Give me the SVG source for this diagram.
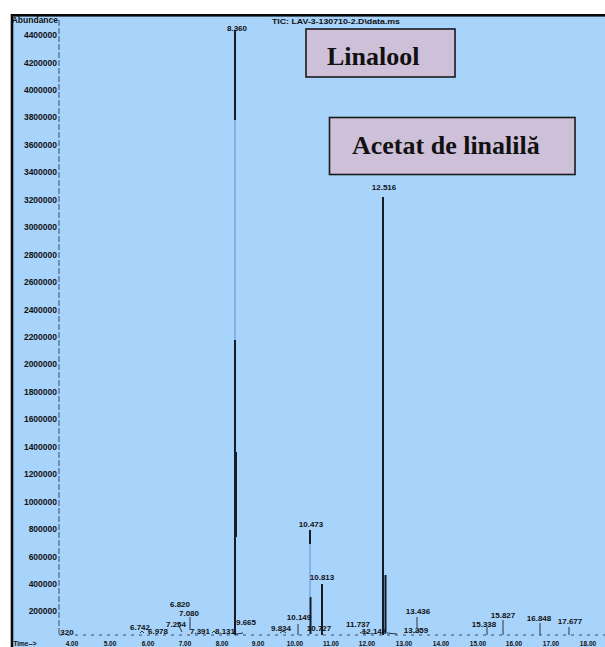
<svg xmlns="http://www.w3.org/2000/svg" width="605" height="647" viewBox="0 0 605 647">
<style>
.ax{font-family:"Liberation Sans",Arial,sans-serif;font-weight:bold;font-size:8.5px;fill:#111;text-anchor:end}
.pk{font-family:"Liberation Sans",Arial,sans-serif;font-weight:bold;font-size:8px;fill:#111;text-anchor:middle}
.xt{font-family:"Liberation Sans",Arial,sans-serif;font-weight:bold;font-size:6.5px;fill:#111;text-anchor:middle}
.box{fill:#CFC0D9;stroke:#1a1a1a;stroke-width:1.6}
.bt{font-family:"Liberation Serif","Times New Roman",serif;font-weight:bold;font-size:26px;fill:#111}
.dk{stroke:#141c28;stroke-width:2;fill:none}
.lt{stroke:#86aee8;stroke-width:2;fill:none}
.sm{stroke:#2a3440;stroke-width:1;fill:none}
</style>
<rect x="0" y="0" width="605" height="647" fill="#ffffff"/>
<rect id="frame" x="12" y="15.3" width="600" height="640" fill="#A8D4FC" stroke="#0a0a0a" stroke-width="2.6"/>
<g id="y-axis">
<line x1="59" y1="20" x2="59" y2="635" stroke="#3a4a60" stroke-width="1" stroke-dasharray="6,2"/>
<text class="ax" x="58" y="23" font-size="7">Abundance</text>
<text class="ax" x="57" y="38">4400000</text>
<text class="ax" x="57" y="65.5">4200000</text>
<text class="ax" x="57" y="93">4000000</text>
<text class="ax" x="57" y="120.4">3800000</text>
<text class="ax" x="57" y="147.8">3600000</text>
<text class="ax" x="57" y="175.3">3400000</text>
<text class="ax" x="57" y="202.7">3200000</text>
<text class="ax" x="57" y="230.2">3000000</text>
<text class="ax" x="57" y="257.6">2800000</text>
<text class="ax" x="57" y="285">2600000</text>
<text class="ax" x="57" y="312.5">2400000</text>
<text class="ax" x="57" y="340">2200000</text>
<text class="ax" x="57" y="367.4">2000000</text>
<text class="ax" x="57" y="394.9">1800000</text>
<text class="ax" x="57" y="422.3">1600000</text>
<text class="ax" x="57" y="449.8">1400000</text>
<text class="ax" x="57" y="477.2">1200000</text>
<text class="ax" x="57" y="504.6">1000000</text>
<text class="ax" x="57" y="532">800000</text>
<text class="ax" x="57" y="559.5">600000</text>
<text class="ax" x="57" y="587">400000</text>
<text class="ax" x="57" y="614.4">200000</text>
</g>
<g id="x-axis">
<line x1="59" y1="635" x2="605" y2="635" stroke="#3a4a60" stroke-width="1" stroke-dasharray="3,5"/>
<text class="xt" x="25" y="646">Time--&gt;</text>
<text class="xt" x="72" y="646">4.00</text>
<text class="xt" x="110" y="646">5.00</text>
<text class="xt" x="148" y="646">6.00</text>
<text class="xt" x="185" y="646">7.00</text>
<text class="xt" x="222" y="646">8.00</text>
<text class="xt" x="258" y="646">9.00</text>
<text class="xt" x="295" y="646">10.00</text>
<text class="xt" x="331" y="646">11.00</text>
<text class="xt" x="367" y="646">12.00</text>
<text class="xt" x="404" y="646">13.00</text>
<text class="xt" x="441" y="646">14.00</text>
<text class="xt" x="478" y="646">15.00</text>
<text class="xt" x="514" y="646">16.00</text>
<text class="xt" x="551" y="646">17.00</text>
<text class="xt" x="588" y="646">18.00</text>
</g>
<text id="title" class="pk" x="336" y="24" font-size="7.5" textLength="128" lengthAdjust="spacingAndGlyphs">TIC: LAV-3-130710-2.D\data.ms</text>
<g id="peaks">
<line class="dk" x1="235" y1="30" x2="235" y2="120"/>
<line class="lt" x1="235" y1="120" x2="235" y2="340"/>
<line class="dk" x1="235" y1="340" x2="235" y2="635"/>
<line class="dk" x1="236" y1="452" x2="236" y2="537" stroke-width="3"/>
<line class="dk" x1="383" y1="197" x2="383" y2="635"/>
<line class="dk" x1="385.5" y1="575" x2="385.5" y2="633" stroke-width="2.5"/>
<line class="dk" x1="310" y1="530" x2="310" y2="544"/>
<line class="lt" x1="310" y1="544" x2="310" y2="597"/>
<line class="dk" x1="310.5" y1="597" x2="310.5" y2="634" stroke-width="3"/>
<line class="dk" x1="322" y1="584" x2="322" y2="635"/>
<line class="sm" x1="298" y1="624" x2="298" y2="635"/>
<line class="sm" x1="417" y1="617" x2="417" y2="628"/>
<line class="sm" x1="487" y1="627" x2="487" y2="635"/>
<line class="sm" x1="503" y1="620" x2="503" y2="635" stroke-width="1.4"/>
<line class="sm" x1="540" y1="623" x2="540" y2="635" stroke-width="1.4"/>
<line class="sm" x1="569" y1="627" x2="569" y2="635"/>
<line class="sm" x1="190" y1="617" x2="190" y2="630"/>
<line class="sm" x1="178" y1="624" x2="182" y2="632"/>
<path class="sm" d="M140 633 l2 -2 l2 2 M212 633 l2 -2 l2 2 M233 632 l4 2 l6 -1 M280 633 l3 -2 l3 2 M360 633 l4 -2 l4 2 M387 633 l10 1 M414 633 l4 -3 l4 3"/>
</g>
<g id="peak-labels">
<text class="pk" x="237" y="31">8.360</text>
<text class="pk" x="384" y="190">12.516</text>
<text class="pk" x="311" y="527">10.473</text>
<text class="pk" x="322" y="580">10.813</text>
<text class="pk" x="180" y="607">6.820</text>
<text class="pk" x="189" y="616">7.080</text>
<text class="pk" x="67" y="635">320</text>
<text class="pk" x="140" y="630">6.742</text>
<text class="pk" x="158" y="634" font-size="6.5">6.978</text>
<text class="pk" x="176" y="627" font-size="6.5">7.254</text>
<text class="pk" x="200" y="634">7.391</text>
<text class="pk" x="225" y="634">8.131</text>
<text class="pk" x="246" y="625">9.665</text>
<text class="pk" x="281" y="631">9.834</text>
<text class="pk" x="299" y="620">10.149</text>
<text class="pk" x="319" y="631">10.727</text>
<text class="pk" x="358" y="627">11.737</text>
<text class="pk" x="374" y="634" font-size="6.5">12.142</text>
<text class="pk" x="418" y="614">13.436</text>
<text class="pk" x="416" y="633">13.359</text>
<text class="pk" x="484" y="627">15.338</text>
<text class="pk" x="503" y="618">15.827</text>
<text class="pk" x="539" y="621">16.848</text>
<text class="pk" x="570" y="624">17.677</text>
</g>
<g id="node-linalool">
<rect class="box" x="306" y="29" width="149" height="48"/>
<text class="bt" x="327" y="65">Linalool</text>
</g>
<g id="node-acetat">
<rect class="box" x="329.5" y="117.5" width="245.5" height="57"/>
<text class="bt" x="352" y="154">Acetat de linalilă</text>
</g>
</svg>
